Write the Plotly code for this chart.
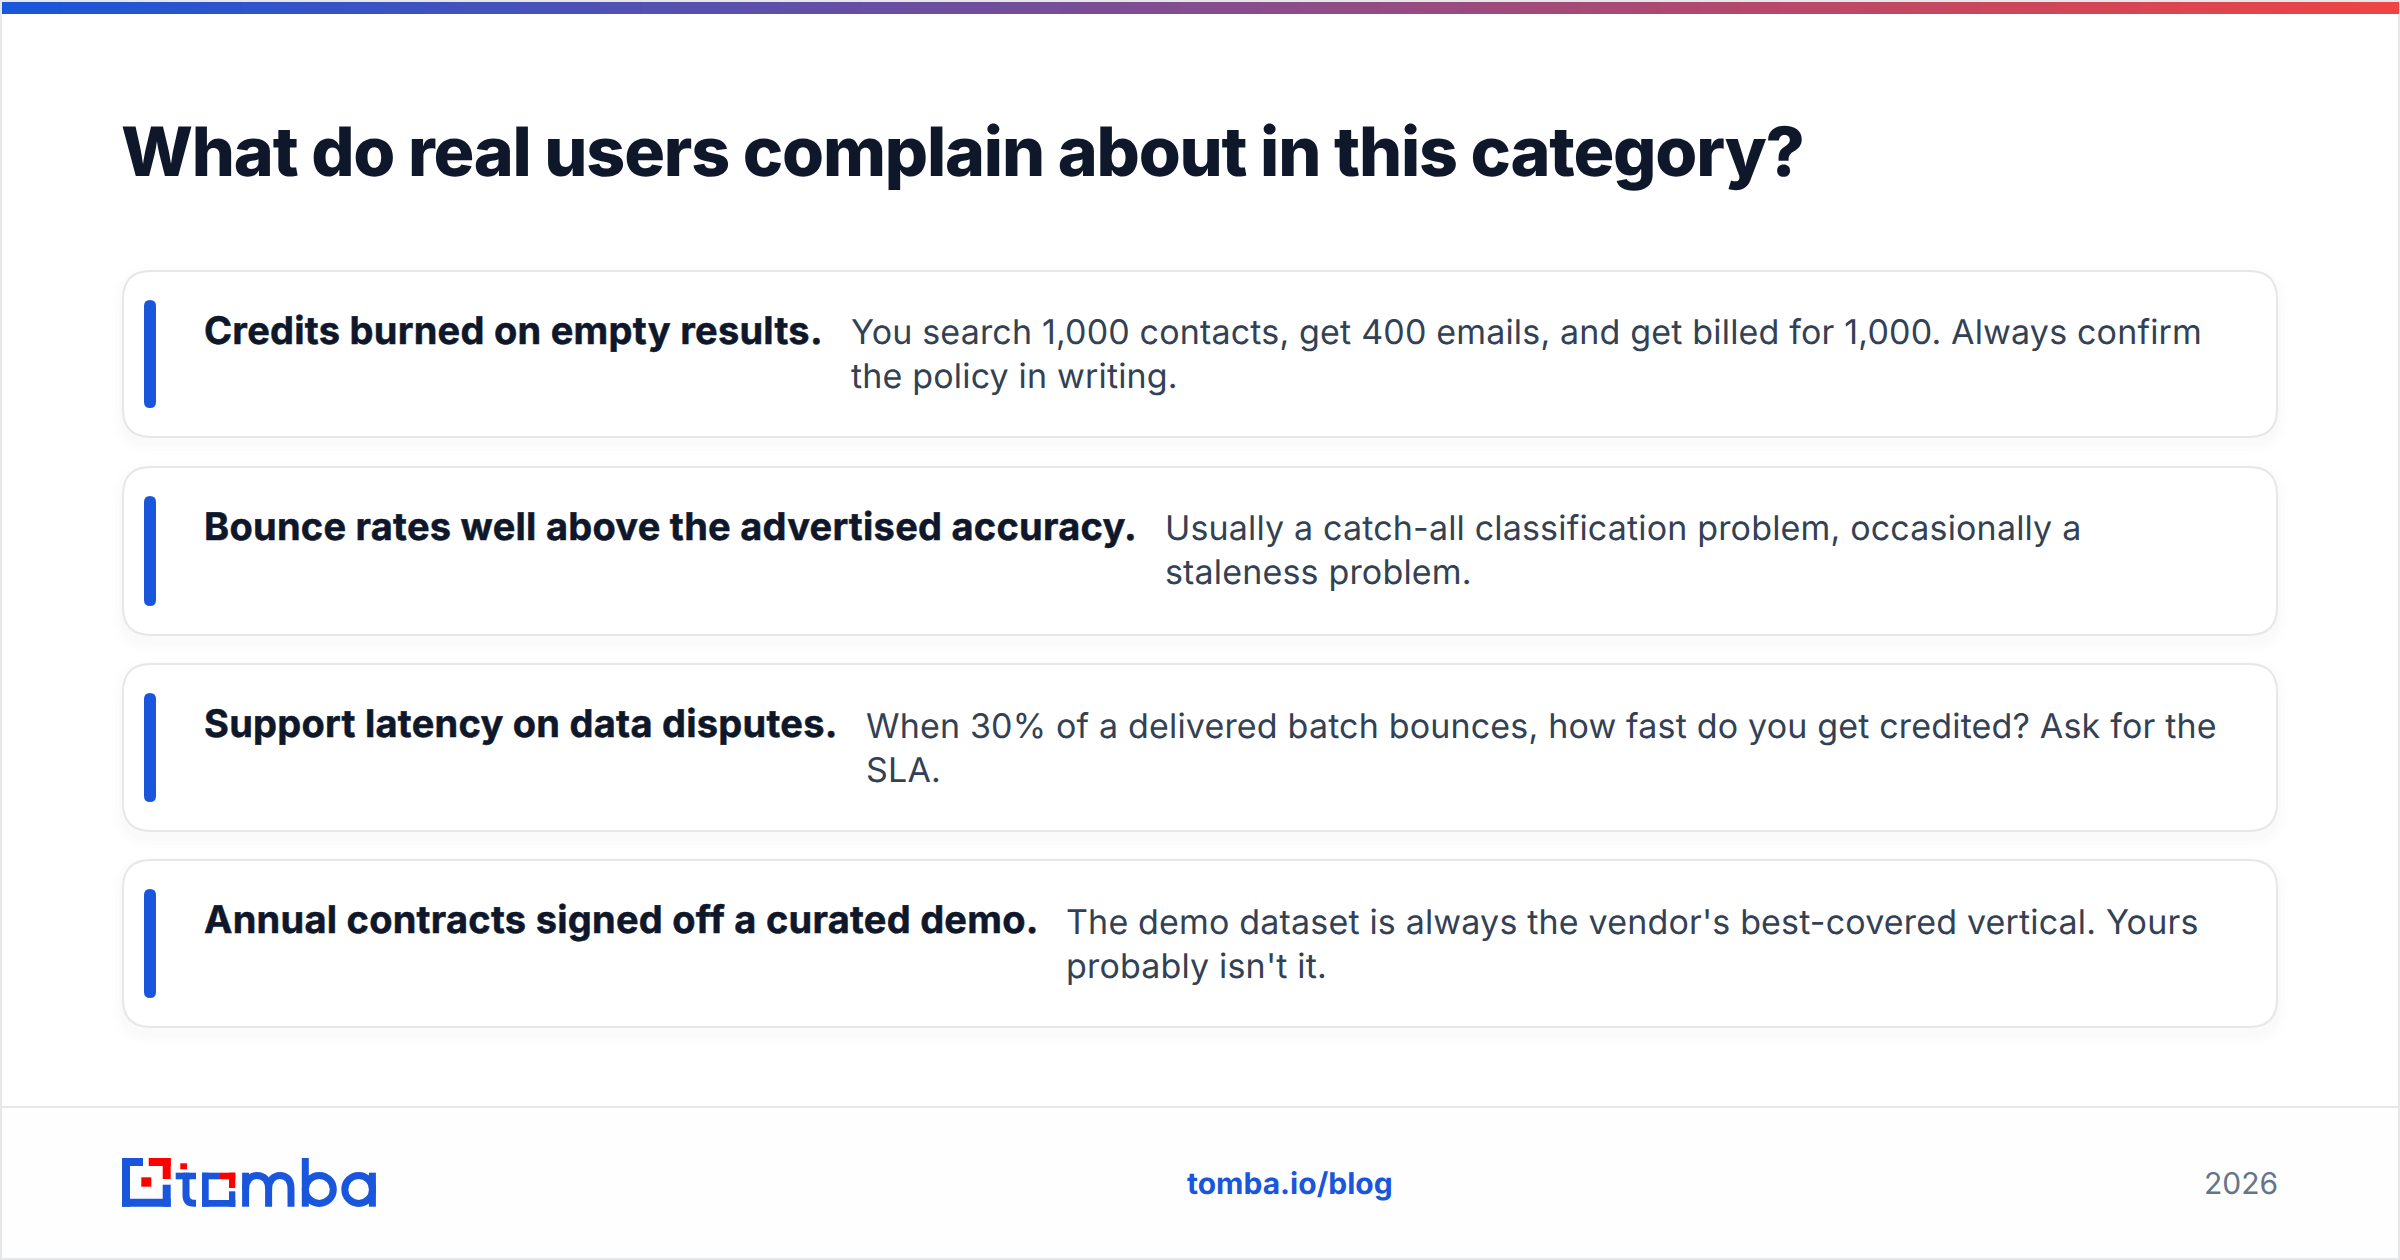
import plotly.graph_objects as go

W = 2400
H = 1260

TITLE = "What do real users complain about in this category?"
HEADS = [
    "Credits burned on empty results.",
    "Bounce rates well above the advertised accuracy.",
    "Support latency on data disputes.",
    "Annual contracts signed off a curated demo.",
]
BODY_LINE1 = [
    "You search 1,000 contacts, get 400 emails, and get billed for 1,000. Always confirm",
    "Usually a catch-all classification problem, occasionally a",
    "When 30% of a delivered batch bounces, how fast do you get credited? Ask for the",
    "The demo dataset is always the vendor's best-covered vertical. Yours",
]
BODY_LINE2 = [
    "the policy in writing.",
    "staleness problem.",
    "SLA.",
    "probably isn't it.",
]
BODY_X = [849, 1163, 864, 1064]
BODY_Y = [331, 527, 725, 921]
CARD_TOP = [271, 467, 664, 860]
CARD_BOTTOM = [437, 635, 831, 1027]
FOOT_LINK = "tomba.io/blog"
FOOT_YEAR = "2026"

BLUE = "#1a56db"
RED = "#ff0000"
INK = "#0f172a"
BODY = "#334155"
BORDER = "#e5e7eb"


def rect(x0, y0, x1, y1, color):
    return dict(type="rect", xref="x", yref="y", x0=x0, y0=y0, x1=x1, y1=y1,
                fillcolor=color, line=dict(width=0), layer="above")


def rounded(x0, y0, x1, y1, r):
    return (f"M{x0+r},{y0} L{x1-r},{y0} Q{x1},{y0} {x1},{y0+r} L{x1},{y1-r} Q{x1},{y1} {x1-r},{y1} "
            f"L{x0+r},{y1} Q{x0},{y1} {x0},{y1-r} L{x0},{y0+r} Q{x0},{y0} {x0+r},{y0} Z")


def stroke(path, color=BLUE, width=7):
    return dict(type="path", xref="x", yref="y", path=path, line=dict(color=color, width=width), layer="above")


def text(x, y, s, size, color, weight=400, anchor="left"):
    return dict(xref="x", yref="y", x=x, y=y, text=s, showarrow=False, xanchor=anchor, yanchor="middle",
                font=dict(family="Inter", size=size, color=color, weight=weight))


shapes = []
annotations = []

# footer + frame
shapes.append(rect(0, 1107, W, H, "#fefefe"))
shapes.append(rect(0, 1106, W, 1108, BORDER))
shapes.append(rect(0, 0, 2, H, BORDER))
shapes.append(rect(W - 2, 0, W, H, BORDER))
shapes.append(rect(0, H - 2, W, H, BORDER))
shapes.append(rect(0, 0, W, 2, BORDER))

# gradient bar on top
n = 120
for i in range(n):
    t = i / (n - 1)
    r = int(0x1a + (0xef - 0x1a) * t)
    g = int(0x56 + (0x44 - 0x56) * t)
    b = int(0xdb + (0x44 - 0xdb) * t)
    shapes.append(rect(2 + (W - 4) * i / n, 2, 2 + (W - 4) * (i + 1) / n + 1, 14, f"rgb({r},{g},{b})"))

annotations.append(text(119, 151, TITLE, 68, INK, 800))

for i in range(4):
    top, bot = CARD_TOP[i], CARD_BOTTOM[i]
    # soft shadow
    for k, a in [(12, 0.005), (8, 0.006), (4, 0.008)]:
        shapes.append(dict(type="path", xref="x", yref="y", path=rounded(123 - k, top + 6 - k, 2277 + k, bot + 6 + k, 28 + k),
                           fillcolor=f"rgba(15,23,42,{a})", line=dict(width=0)))
    shapes.append(dict(type="path", xref="x", yref="y", path=rounded(123, top, 2277, bot, 28),
                       fillcolor="white", line=dict(color=BORDER, width=2)))
    shapes.append(dict(type="path", xref="x", yref="y", path=rounded(144, top + 29, 156, bot - 29, 6),
                       fillcolor=BLUE, line=dict(width=0)))
    annotations.append(text(202, top + 59, HEADS[i], 38, INK, 700))
    annotations.append(text(BODY_X[i], BODY_Y[i], BODY_LINE1[i], 34, BODY))
    annotations.append(text(BODY_X[i], BODY_Y[i] + 44, BODY_LINE2[i], 34, BODY))

annotations.append(text(1185, 1183, FOOT_LINK, 30, BLUE, 700))
annotations.append(text(2280, 1183, FOOT_YEAR, 30, "#64748b", 400, "right"))

# logo mark
shapes += [
    rect(122, 1158, 143, 1166, BLUE), rect(122, 1158, 130, 1206.7, BLUE),
    rect(122, 1198.7, 170.7, 1206.7, BLUE), rect(162.7, 1184.7, 170.7, 1206.7, BLUE),
    rect(148.7, 1158, 170.7, 1166, RED), rect(162.7, 1158, 170.7, 1179, RED),
    rect(141.3, 1177.3, 151.3, 1186.7, RED),
]
# logo wordmark
shapes += [
    rect(180.3, 1163.3, 187, 1169.3, RED),
    rect(175.7, 1172.7, 196, 1179.3, BLUE),
    stroke("M186,1172.7 L186,1195 Q186,1203.3 194,1203.3 L196,1203.3"),
    rect(202, 1172.7, 220, 1179.3, BLUE), rect(202, 1172.7, 208.7, 1206.7, BLUE),
    rect(202, 1200, 235.3, 1206.7, BLUE), rect(229, 1191.3, 235.3, 1206.7, BLUE),
    rect(220, 1172.7, 235.3, 1179.3, RED), rect(229, 1172.7, 235.3, 1188, RED),
    stroke("M245.6,1172.7 L245.6,1206.7"),
    stroke("M245.6,1189 C245.6,1180 251,1175.4 257,1175.4 C264,1175.4 268.6,1180 268.6,1189 L268.6,1206.7"),
    stroke("M268.6,1189 C268.6,1180 274,1175.4 280,1175.4 C287,1175.4 291,1180 291,1189 L291,1206.7"),
    stroke("M305.3,1158 L305.3,1206.7"),
    dict(type="circle", xref="x", yref="y", x0=305.3, y0=1175.4, x1=333.3, y1=1203.4,
         line=dict(color=BLUE, width=7), layer="above"),
    dict(type="circle", xref="x", yref="y", x0=344.8, y0=1175.4, x1=372.5, y1=1203.4,
         line=dict(color=BLUE, width=7), layer="above"),
    stroke("M372.4,1172.7 L372.4,1206.7"),
]

fig = go.Figure()
fig.update_layout(
    width=W, height=H, margin=dict(l=0, r=0, t=0, b=0),
    paper_bgcolor="white", plot_bgcolor="white",
    xaxis=dict(range=[0, W], visible=False, fixedrange=True),
    yaxis=dict(range=[H, 0], visible=False, fixedrange=True),
    shapes=shapes, annotations=annotations, showlegend=False,
)

# plotly has no letter spacing or text-rendering option, set them on the svg text.
# the annotations are centred in their box, so pin the anchor first or the text drifts
post = """
document.body.style.margin='0';
var anns = document.getElementById('{plot_id}').layout.annotations;
var spacing = {'68': -1.18, '38': 0.26, '34': 0.17, '30': 0};
document.querySelectorAll('.annotation-text').forEach(function(t, i){
  var b = t.getBBox();
  var right = anns[i].xanchor === 'right';
  t.setAttribute('text-anchor', right ? 'end' : 'start');
  t.setAttribute('x', right ? b.x + b.width : b.x);
  var size = parseFloat(t.style.fontSize);
  t.style.textRendering = 'geometricPrecision';
  t.style.letterSpacing = spacing[String(size)] + 'px';
  if (size === 38) { t.style.stroke = t.style.fill; t.style.strokeWidth = '0.5px'; }
});
"""
fig.write_html("out.html", config=dict(displayModeBar=False), post_script=post)
